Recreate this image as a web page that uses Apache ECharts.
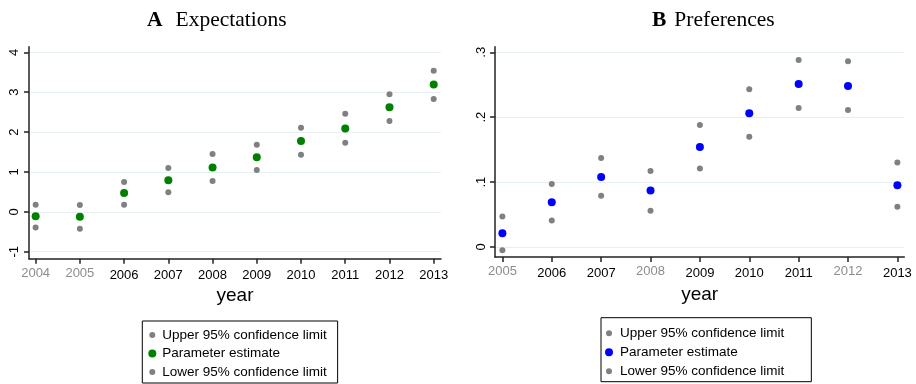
<!DOCTYPE html>
<html>
<head>
<meta charset="utf-8">
<script src="https://cdn.jsdelivr.net/npm/echarts@6/dist/echarts.min.js"></script>
<style>html,body{margin:0;padding:0;background:#fff}#c{width:916px;height:384px}</style>
</head>
<body>
<div id="c"></div>
<script>
// ---- Panel A: Expectations ----
var yearsA = [2004, 2005, 2006, 2007, 2008, 2009, 2010, 2011, 2012, 2013];
var upperA = [0.18, 0.17, 0.75, 1.10, 1.45, 1.68, 2.11, 2.46, 2.95, 3.54];
var estA   = [-0.11, -0.125, 0.47, 0.79, 1.11, 1.37, 1.775, 2.09, 2.62, 3.19];
var lowerA = [-0.39, -0.425, 0.18, 0.49, 0.775, 1.05, 1.43, 1.73, 2.28, 2.83];
var yTicksA = [-1, 0, 1, 2, 3, 4];
var greyYearsA = [2004, 2005];

// ---- Panel B: Preferences ----
var yearsB = [2005, 2006, 2007, 2008, 2009, 2010, 2011, 2012, 2013];
var upperB = [0.047, 0.097, 0.137, 0.117, 0.188, 0.243, 0.288, 0.286, 0.130];
var estB   = [0.021, 0.069, 0.108, 0.087, 0.154, 0.206, 0.251, 0.248, 0.095];
var lowerB = [-0.005, 0.041, 0.079, 0.056, 0.121, 0.170, 0.214, 0.211, 0.062];
var yTicksB = [0, 0.1, 0.2, 0.3];
var greyYearsB = [2005, 2008, 2012];

var seriesNames = ['Upper 95% confidence limit', 'Parameter estimate', 'Lower 95% confidence limit'];

var FONT = "'Liberation Sans', Arial, sans-serif";
var SERIF = "'Liberation Serif', 'Times New Roman', serif";
var GREY = '#808080';

function pairs(xs, ys) { return xs.map(function (x, i) { return [x, ys[i]]; }); }

function xAxisCfg(grid, min, max, years, greys) {
  return {
    type: 'value', gridIndex: grid, min: min, max: max,
    name: 'year', nameLocation: 'middle', nameGap: 27,
    nameTextStyle: { fontFamily: FONT, fontSize: 19, color: '#000' },
    axisLine: { show: true, onZero: false, lineStyle: { color: '#222', width: 1.5 } },
    axisTick: { show: true, length: 5, customValues: years, lineStyle: { color: '#222', width: 1.5 } },
    axisLabel: {
      customValues: years, margin: 8, fontFamily: FONT, fontSize: 13,
      formatter: function (v) { return (greys.indexOf(v) >= 0 ? '{g|' : '{k|') + v + '}'; },
      rich: {
        g: { color: '#8c8c8c', fontFamily: FONT, fontSize: 13 },
        k: { color: '#000', fontFamily: FONT, fontSize: 13, padding: [2, 0, 0, 0] }
      }
    },
    splitLine: { show: false }
  };
}

function yAxisCfg(grid, min, max, ticks, fmt, margin) {
  return {
    type: 'value', gridIndex: grid, min: min, max: max,
    axisLine: { show: true, onZero: false, lineStyle: { color: '#222', width: 1.5 } },
    axisTick: { show: true, length: 5, customValues: ticks, lineStyle: { color: '#222', width: 1.5 } },
    axisLabel: { customValues: ticks, rotate: 90, margin: margin, fontFamily: FONT, fontSize: 13, color: '#000', formatter: fmt },
    splitLine: { show: true, lineStyle: { color: '#e6eff1', width: 1 } }
  };
}

function sc(name, xi, data, color, size, z) {
  return { type: 'scatter', name: name, xAxisIndex: xi, yAxisIndex: xi, data: data,
    symbol: 'circle', symbolSize: size, itemStyle: { color: color, opacity: 1 }, z: z,
    emphasis: { disabled: true } };
}

function legendCfg(left, bottom, estColor, itemWidth, pad, gap) {
  return {
    orient: 'vertical', left: left, bottom: bottom, selectedMode: false,
    backgroundColor: '#fff', borderColor: '#000', borderWidth: 1, borderRadius: 0,
    padding: pad, itemGap: gap, itemWidth: itemWidth, itemHeight: 8, icon: 'circle',
    textStyle: { fontFamily: FONT, fontSize: 13.5, color: '#000' },
    data: [
      { name: seriesNames[0], itemStyle: { color: GREY, borderColor: '#fff', borderWidth: 2 } },
      { name: seriesNames[1], itemStyle: { color: estColor, borderWidth: 0 } },
      { name: seriesNames[2], itemStyle: { color: GREY, borderColor: '#fff', borderWidth: 2 } }
    ]
  };
}

function titleCfg(letter, word, left, spacer) {
  return {
    text: '{b|' + letter + '}{s| }' + word, left: left, top: 9, padding: 0,
    textStyle: { fontFamily: SERIF, fontSize: 21.5, fontWeight: 'normal', color: '#000',
      rich: { b: { fontFamily: SERIF, fontSize: 21.5, fontWeight: 'bold', color: '#000' },
              s: { fontFamily: SERIF, fontSize: 21.5, width: spacer } } }
  };
}

var chart = echarts.init(document.getElementById('c'), null, { renderer: 'canvas' });
chart.setOption({
  animation: false,
  backgroundColor: '#fff',
  title: [
    titleCfg('A', 'Expectations', 147, 13),
    titleCfg('B', 'Preferences', 652, 8)
  ],
  grid: [
    { left: 29, right: 475, top: 46.7, bottom: 125.3, containLabel: false },
    { left: 495, right: 11.7, top: 46.7, bottom: 127, containLabel: false }
  ],
  xAxis: [
    xAxisCfg(0, 2003.85, 2013.165, yearsA, greyYearsA),
    xAxisCfg(1, 2004.85, 2013.14, yearsB, greyYearsB)
  ],
  yAxis: [
    yAxisCfg(0, -1.175, 4.14, yTicksA, function (v) { return String(v); }, 8.5),
    yAxisCfg(1, -0.0154, 0.3086, yTicksB, function (v) { return v === 0 ? '0' : String(Math.round(v * 10) / 10).replace(/^0/, ''); }, 7.5)
  ],
  legend: [
    legendCfg(142.3, 1, '#008000', 10, [7, 11, 4, 5], 4.5),
    legendCfg(601, 2.3, '#0000ff', 12, [8.5, 27, 3.5, 3], 5)
  ],
  series: [
    sc(seriesNames[0], 0, pairs(yearsA, upperA), GREY, 6, 2),
    sc(seriesNames[1], 0, pairs(yearsA, estA), '#008000', 8, 3),
    sc(seriesNames[2], 0, pairs(yearsA, lowerA), GREY, 6, 2),
    sc(seriesNames[0], 1, pairs(yearsB, upperB), GREY, 6, 2),
    sc(seriesNames[1], 1, pairs(yearsB, estB), '#0000ff', 8, 3),
    sc(seriesNames[2], 1, pairs(yearsB, lowerB), GREY, 6, 2)
  ]
});
</script>
</body>
</html>
